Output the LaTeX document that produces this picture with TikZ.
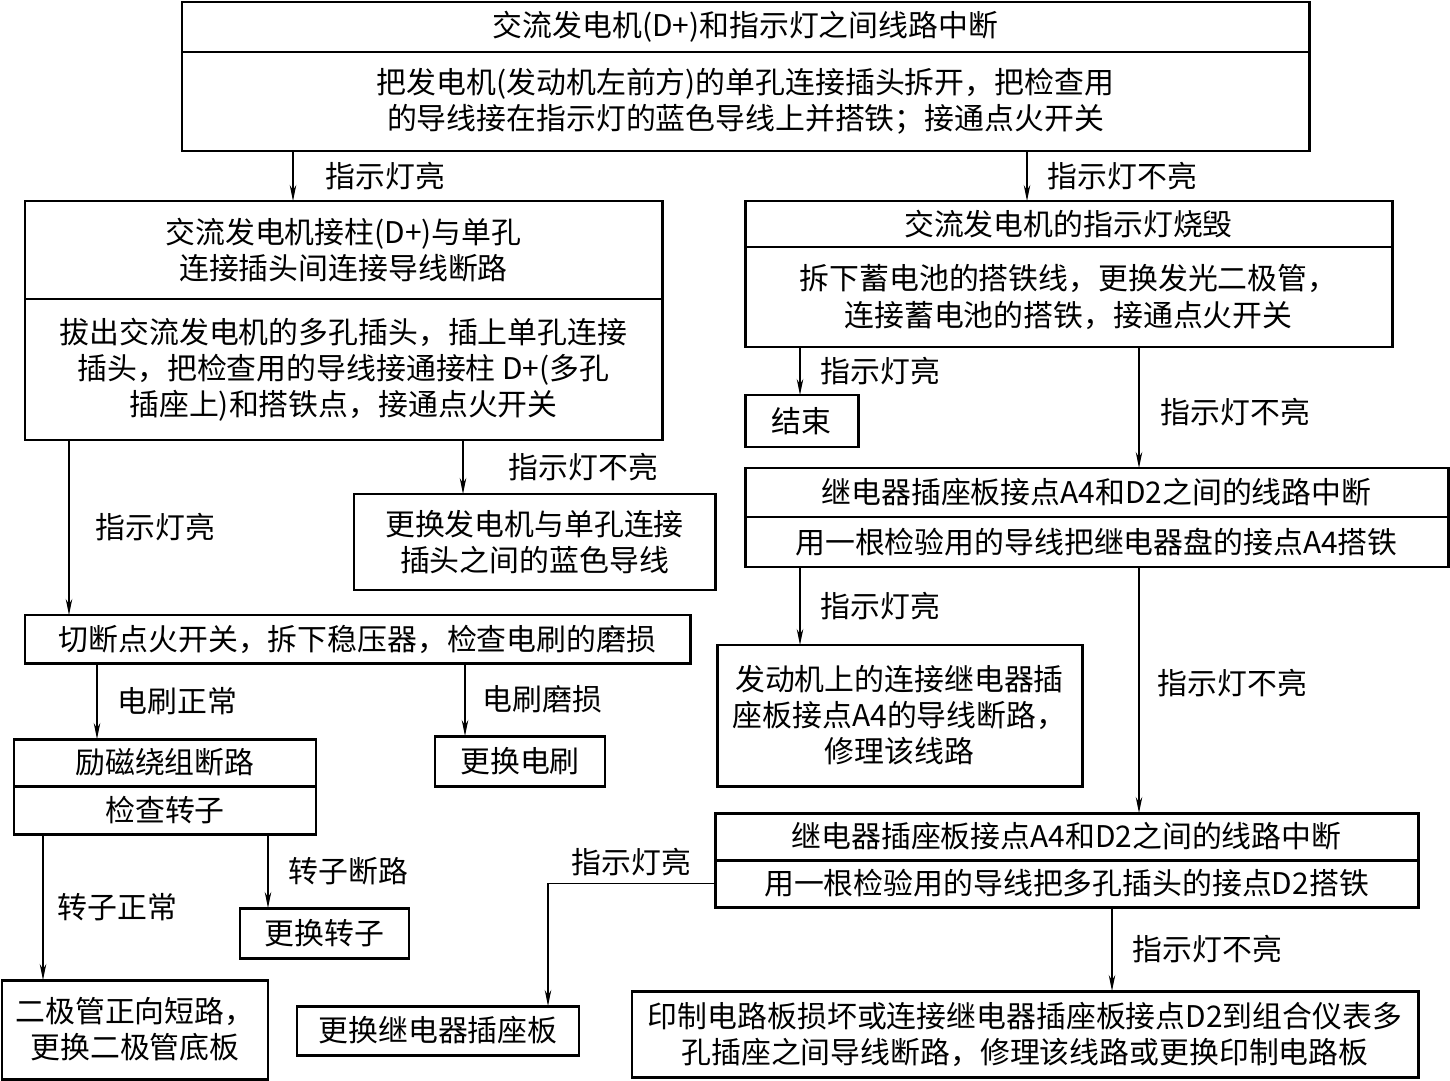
\documentclass[tikz,border=0pt]{standalone}
\usepackage{fontspec}
\setmainfont{Noto Sans CJK SC}
\usetikzlibrary{arrows.meta,positioning}
\newcommand{\boxfont}{\fontsize{17pt}{20.5pt}\selectfont}

\begin{document}
\begin{tikzpicture}[
  box/.style={draw, line width=1.7pt, align=center, inner sep=0pt, outer sep=0pt, font=\boxfont},
  lbl/.style={inner sep=0pt, font=\boxfont},
  arr/.style={->, line width=0.7pt},
  >={Stealth[length=3.2mm,width=1.3mm]}]
  \useasboundingbox (0,0) rectangle (29,-21.62);
  % top check
  \node[box, anchor=north west, minimum width=22.54cm, minimum height=1cm] (brk0) at (3.64,-0.04) {交流发电机(D+)和指示灯之间线路中断};
  \node[box, anchor=north, minimum width=22.54cm, minimum height=1.98cm] (tst0) at (brk0.south) {把发电机(发动机左前方)的单孔连接插头拆开，把检查用\\的导线接在指示灯的蓝色导线上并搭铁；接通点火开关};
  % left branch
  \node[box, anchor=north west, minimum width=12.74cm, minimum height=1.96cm] (brk1) at (0.50,-4.02) {交流发电机接柱(D+)与单孔\\连接插头间连接导线断路};
  \node[box, anchor=north, minimum width=12.74cm, minimum height=2.82cm] (tst1) at (brk1.south) {拔出交流发电机的多孔插头，插上单孔连接\\插头，把检查用的导线接通接柱 D+(多孔\\插座上)和搭铁点，接通点火开关};
  \node[box, anchor=north west, minimum width=7.22cm, minimum height=1.92cm] (fix1) at (7.08,-9.88) {更换发电机与单孔连接\\插头之间的蓝色导线};
  \node[box, anchor=north west, minimum width=13.30cm, minimum height=0.96cm] (tst3) at (0.50,-12.30) {切断点火开关，拆下稳压器，检查电刷的磨损};
  \node[box, anchor=north west, minimum width=3.40cm, minimum height=1cm] (fix3) at (8.70,-14.72) {更换电刷};
  \node[box, anchor=north west, minimum width=6.04cm, minimum height=0.94cm] (brk4) at (0.28,-14.78) {励磁绕组断路};
  \node[box, anchor=north, minimum width=6.04cm, minimum height=0.96cm] (tst4) at (brk4.south) {检查转子};
  \node[box, anchor=north west, minimum width=3.38cm, minimum height=1cm] (fix4) at (4.80,-18.16) {更换转子};
  \node[box, anchor=north west, minimum width=5.32cm, minimum height=1.98cm] (fix5) at (0.04,-19.60) {二极管正向短路，\\更换二极管底板};
  % right branch
  \node[box, anchor=north west, minimum width=12.94cm, minimum height=0.92cm] (brk2) at (14.90,-4.02) {交流发电机的指示灯烧毁};
  \node[box, anchor=north, minimum width=12.94cm, minimum height=2cm] (tst2) at (brk2.south) {拆下蓄电池的搭铁线，更换发光二极管，\\连接蓄电池的搭铁，接通点火开关};
  \node[box, anchor=north west, minimum width=2.26cm, minimum height=1.04cm] (fin2) at (14.90,-7.90) {结束};
  \node[box, anchor=north west, minimum width=14.06cm, minimum height=0.98cm] (brk6) at (14.90,-9.36) {继电器插座板接点A4和D2之间的线路中断};
  \node[box, anchor=north, minimum width=14.06cm, minimum height=1cm] (tst6) at (brk6.south) {用一根检验用的导线把继电器盘的接点A4搭铁};
  \node[box, anchor=north west, minimum width=7.30cm, minimum height=2.82cm] (fix6) at (14.34,-12.90) {发动机上的连接继电器插\\座板接点A4的导线断路，\\修理该线路};
  \node[box, anchor=north west, minimum width=14.06cm, minimum height=0.94cm] (brk7) at (14.30,-16.26) {继电器插座板接点A4和D2之间的线路中断};
  \node[box, anchor=north, minimum width=14.06cm, minimum height=0.94cm] (tst7) at (brk7.south) {用一根检验用的导线把多孔插头的接点D2搭铁};
  \node[box, anchor=north west, minimum width=5.64cm, minimum height=0.98cm] (fix7) at (5.94,-20.12) {更换继电器插座板};
  \node[box, anchor=north west, minimum width=15.72cm, minimum height=1.72cm] (fix8) at (12.64,-19.82) {印制电路板损坏或连接继电器插座板接点D2到组合仪表多\\孔插座之间导线断路，修理该线路或更换印制电路板};
  % arrows
  \draw[arr] (tst0.south -| 5.86,0) -- node[lbl, right=0.64cm]{指示灯亮} (brk1.north -| 5.86,0);
  \draw[arr] (tst0.south -| 20.54,0) -- node[lbl, right=0.40cm]{指示灯不亮} (brk2.north -| 20.54,0);
  \draw[arr] (tst1.south -| 1.38,0) -- node[lbl, right=0.52cm]{指示灯亮} (tst3.north -| 1.38,0);
  \draw[arr] (tst1.south -| 9.26,0) -- node[lbl, right=0.90cm]{指示灯不亮} (fix1.north -| 9.26,0);
  \draw[arr] (tst3.south -| 1.94,0) -- node[lbl, right=0.40cm]{电刷正常} (brk4.north -| 1.94,0);
  \draw[arr] (tst3.south -| 9.30,0) -- node[lbl, right=0.34cm]{电刷磨损} (fix3.north -| 9.30,0);
  \draw[arr] (tst4.south -| 0.86,0) -- node[lbl, right=0.28cm]{转子正常} (fix5.north -| 0.86,0);
  \draw[arr] (tst4.south -| 5.36,0) -- node[lbl, right=0.40cm]{转子断路} (fix4.north -| 5.36,0);
  \draw[arr] (tst2.south -| 16.00,0) -- node[lbl, right=0.40cm]{指示灯亮} (fin2.north -| 16.00,0);
  \draw[arr] (tst2.south -| 22.78,0) -- node[lbl, right=0.42cm, pos=0.54]{指示灯不亮} (brk6.north -| 22.78,0);
  \draw[arr] (tst6.south -| 16.00,0) -- node[lbl, right=0.40cm]{指示灯亮} (fix6.north -| 16.00,0);
  \draw[arr] (tst6.south -| 22.78,0) -- node[lbl, right=0.36cm, pos=0.47]{指示灯不亮} (brk7.north -| 22.78,0);
  \draw[arr] (tst7.west) -- node[lbl, above=0.14cm]{指示灯亮} (10.96,0 |- tst7.west) -- (fix7.north -| 10.96,0);
  \draw[arr] (tst7.south -| 22.24,0) -- node[lbl, right=0.40cm]{指示灯不亮} (fix8.north -| 22.24,0);
\end{tikzpicture}
\end{document}
